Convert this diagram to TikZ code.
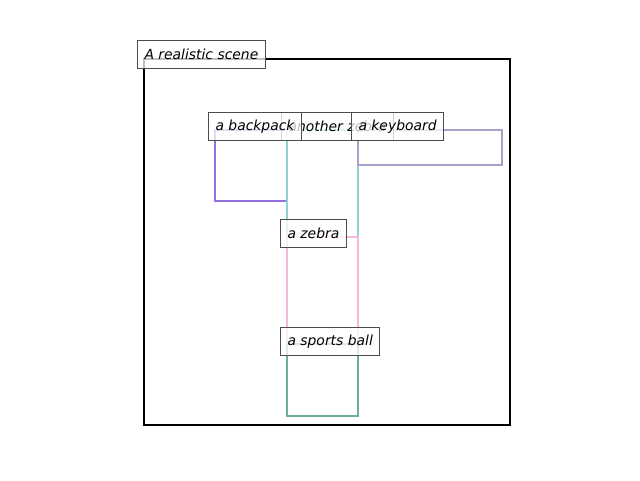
\documentclass[tikz,border=0pt]{standalone}
\usepackage{fontspec}
\setmainfont{DejaVu Sans}
\begin{document}
\begin{tikzpicture}[x=1pt,y=-1pt,
  lbl/.style={draw=black!70, line width=1pt, fill=white, fill opacity=0.75, text opacity=1,
    anchor=north west, inner xsep=7pt, inner ysep=0pt, minimum height=28pt,
    font=\fontsize{13.9pt}{16pt}\selectfont\itshape},
  obox/.style={line width=2.8pt}]
\useasboundingbox (0,0) rectangle (640,480);
\definecolor{cpurple}{HTML}{9370DB}
\definecolor{cteal}{HTML}{93D0D0}
\definecolor{ckey}{HTML}{A8A0CC}
\definecolor{cpink}{HTML}{F4B8DC}
\definecolor{cgreen}{HTML}{70AE9C}
% boxes
\draw[line width=2.2pt, black] (144,59) rectangle (510,425);
\draw[obox, cpurple] (215,130) rectangle (287,201);
\draw[obox, cteal] (287,130) rectangle (358,237);
\draw[obox, ckey] (358,130) rectangle (502,165);
\draw[obox, cpink] (287,237) rectangle (358,344);
\draw[obox, cgreen] (287,344) rectangle (358,416);
% labels
\node[lbl] (scene) at (137,40) {A realistic scene};
\node[lbl] (zebra2) at (281,112) {another zebra};
\node[lbl] (backpack) at (208,112) {a backpack};
\node[lbl] (keyboard) at (351,112) {a keyboard};
\node[lbl] (zebra) at (280,219) {a zebra};
\node[lbl] (ball) at (280,327) {a sports ball};
\end{tikzpicture}
\end{document}
